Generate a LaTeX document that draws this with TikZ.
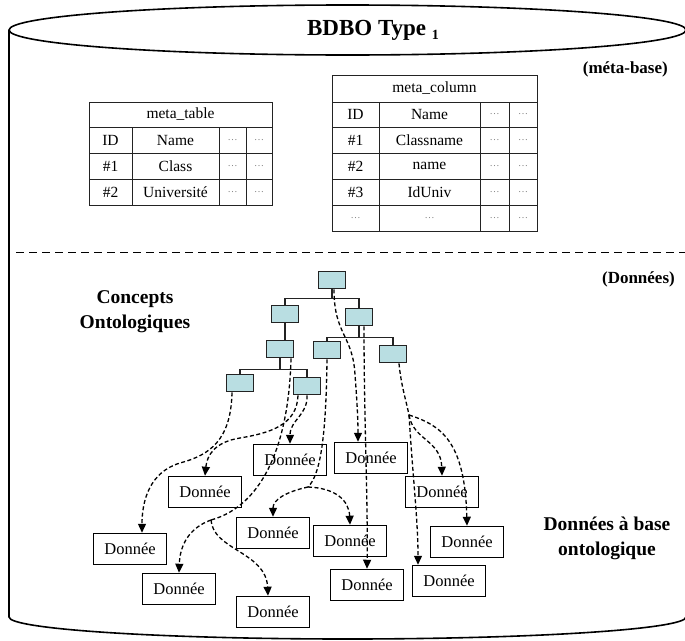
\documentclass[tikz,border=0pt]{standalone}
\usepackage{fontspec}
\setmainfont{Liberation Serif}
\usetikzlibrary{arrows.meta}
\definecolor{boxcyan}{RGB}{185,222,226}
\definecolor{linegray}{RGB}{35,35,35}
\newcommand\mydots{\textcolor{gray}{\fontsize{10}{10}\selectfont\ldots}}
\begin{document}
\begin{tikzpicture}[x=1pt,y=-1pt,
  concept/.style={draw=linegray, line width=1.8pt, fill=boxcyan, minimum width=27pt, minimum height=17pt, inner sep=0pt},
  donnee/.style={draw=black, line width=1.5pt, minimum width=73pt, minimum height=31pt, inner sep=0pt, font=\fontsize{16.5}{18}\selectfont},
  tree/.style={draw=linegray, line width=1.7pt},
  conn/.style={draw=black, line width=1.3pt, dash pattern=on 4pt off 2.5pt},
  arr/.style={conn, -{Triangle[length=9pt,width=8pt]}},
  tab/.style={draw=linegray, line width=1.5pt},
  cell/.style={inner sep=0pt, font=\fontsize{15.5}{17}\selectfont},
  lab/.style={inner sep=0pt, align=center, font=\fontsize{19.5}{25}\selectfont\bfseries},
  plab/.style={inner sep=0pt, font=\fontsize{17}{20}\selectfont\bfseries},
  cyl/.style={draw=black, line width=1.6pt},
  sep/.style={draw=black, line width=1.4pt, dash pattern=on 8pt off 5pt}
]
\useasboundingbox (0,0) rectangle (685,640);

% cylinder
\draw[cyl] (347.5,30) ellipse [x radius=338.5pt, y radius=25pt];
\draw[cyl] (9,30) -- (9,617) arc[start angle=180, end angle=360, x radius=338.5pt, y radius=22pt] -- (686,30);

\node[inner sep=0pt, font=\fontsize{23}{25}\selectfont\bfseries] (title) at (373,30) {BDBO Type \raisebox{-4pt}{\fontsize{14}{14}\selectfont 1}};
\node[plab, anchor=east] (metabase) at (668,69) {(méta-base)};
\node[plab, anchor=east] (donnees) at (675,279) {(Données)};

% separator
\draw[sep] (16,252.5) -- (685,252.5);

% tables
\begin{scope}[shift={(0.5,0.5)}]
\draw[tab] (89,102) rectangle (272,205);
\draw[tab] (89,127) -- (272,127) (89,153) -- (272,153) (89,179) -- (272,179);
\draw[tab] (132,127) -- (132,205) (219,127) -- (219,205) (246,127) -- (246,205);
\draw[tab] (332,75) rectangle (537,231);
\draw[tab] (332,102) -- (537,102) (332,127) -- (537,127) (332,153) -- (537,153) (332,179) -- (537,179) (332,205) -- (537,205);
\draw[tab] (379,102) -- (379,231) (480,102) -- (480,231) (509,102) -- (509,231);
\end{scope}
\node[cell] (mth) at (180.5,114.5) {meta\_table};
\node[cell] (mt1a) at (110.5,140) {ID};
\node[cell] (mt1b) at (175.5,140) {Name};
\node[cell] (mt1c) at (232.5,140) {\mydots};
\node[cell] (mt1d) at (259,140) {\mydots};
\node[cell] (mt2a) at (110.5,166) {\#1};
\node[cell] (mt2b) at (175.5,166) {Class};
\node[cell] (mt2c) at (232.5,166) {\mydots};
\node[cell] (mt2d) at (259,166) {\mydots};
\node[cell] (mt3a) at (110.5,192) {\#2};
\node[cell] (mt3b) at (175.5,192) {Université};
\node[cell] (mt3c) at (232.5,192) {\mydots};
\node[cell] (mt3d) at (259,192) {\mydots};

\node[cell] (mch) at (434.5,88.5) {meta\_column};
\node[cell] (mc1a) at (355.5,114.5) {ID};
\node[cell] (mc1b) at (429.5,114.5) {Name};
\node[cell] (mc1c) at (494.5,114.5) {\mydots};
\node[cell] (mc1d) at (523,114.5) {\mydots};
\node[cell] (mc2a) at (355.5,140) {\#1};
\node[cell] (mc2b) at (429.5,140) {Classname};
\node[cell] (mc2c) at (494.5,140) {\mydots};
\node[cell] (mc2d) at (523,140) {\mydots};
\node[cell] (mc3a) at (355.5,166) {\#2};
\node[cell] (mc3b) at (429.5,166) {name};
\node[cell] (mc3c) at (494.5,166) {\mydots};
\node[cell] (mc3d) at (523,166) {\mydots};
\node[cell] (mc4a) at (355.5,192) {\#3};
\node[cell] (mc4b) at (429.5,192) {IdUniv};
\node[cell] (mc4c) at (494.5,192) {\mydots};
\node[cell] (mc4d) at (523,192) {\mydots};
\node[cell] (mc5a) at (355.5,218) {\mydots};
\node[cell] (mc5b) at (429.5,218) {\mydots};
\node[cell] (mc5c) at (494.5,218) {\mydots};
\node[cell] (mc5d) at (523,218) {\mydots};

% labels
\node[lab] (concepts) at (135,312) {Concepts\\Ontologiques};
\node[lab] (dab) at (607,538) {Données à base\\ontologique};

% concept tree
\node[concept] (root) at (332,280) {};
\node[concept] (L1l) at (285,314) {};
\node[concept] (L1r) at (359,317) {};
\node[concept] (L2l) at (280,349) {};
\node[concept] (L2m) at (327,350) {};
\node[concept] (L2r) at (393,354) {};
\node[concept] (L3l) at (240,383) {};
\node[concept] (L3r) at (307,386) {};

\draw[tree] (root.south) -- ++(0,9) -| (L1l.north);
\draw[tree] (root.south) -- ++(0,9) -| (L1r.north);
\draw[tree] (L1l.south) -- (L1l.south |- L2l.north);
\draw[tree] (L1r.south) -- ++(0,11) -| (L2m.north);
\draw[tree] (L1r.south) -- ++(0,11) -| (L2r.north);
\draw[tree] (L2l.south) -- ++(0,11) -| (L3l.north);
\draw[tree] (L2l.south) -- ++(0,11) -| (L3r.north);

% data boxes
\node[donnee] (B1) at (290,460) {Donnée};
\node[donnee] (B2) at (371,458) {Donnée};
\node[donnee] (B3) at (205,492) {Donnée};
\node[donnee] (B4) at (442,492) {Donnée};
\node[donnee] (B5) at (130,549) {Donnée};
\node[donnee] (B6) at (273,533) {Donnée};
\node[donnee] (B7) at (350,541) {Donnée};
\node[donnee] (B8) at (467,542) {Donnée};
\node[donnee] (B9) at (179,589) {Donnée};
\node[donnee] (B10) at (367,585) {Donnée};
\node[donnee] (B11) at (449,581) {Donnée};
\node[donnee] (B12) at (273,612) {Donnée};

% connectors
\draw[arr] ([xshift=2pt]root.south) .. controls (334,335) and (353,335) .. (355,375) .. controls (357,400) and (358,420) .. ([xshift=-13pt]B2.north);
\draw[arr] ([xshift=5pt]L1r.south) .. controls (364,420) and (368,500) .. (B10.north);

\coordinate (j1) at (211,520);
\draw[conn] ([xshift=11pt]L2l.south) .. controls (289,440) and (265,505) .. (j1);
\draw[arr] (j1) .. controls (189,528) and (180,545) .. (B9.north);
\draw[arr] (j1) .. controls (213,550) and (266,552) .. ([xshift=-5pt]B12.north);

\coordinate (j2) at (308,487);
\draw[conn] (L2m.south) .. controls (326,440) and (320,475) .. (j2);
\draw[arr] (j2) .. controls (285,492) and (273,500) .. (B6.north);
\draw[arr] (j2) .. controls (335,488) and (349,500) .. (B7.north);

\coordinate (j3) at (409,415);
\draw[conn] ([xshift=6pt]L2r.south) .. controls (401,385) and (406,400) .. (j3);
\draw[arr] (j3) .. controls (413,480) and (418,520) .. ([xshift=-31pt]B11.north);
\draw[arr] (j3) .. controls (413,440) and (441,440) .. (B4.north);
\draw[arr] (j3) .. controls (440,425) and (465,440) .. (B8.north);

\draw[arr] ([xshift=-8pt]L3l.south) .. controls (231,440) and (210,455) .. (180,463) .. controls (150,472) and (142,500) .. ([xshift=12pt]B5.north);
\draw[arr] ([xshift=-9pt]L3r.south) .. controls (297,425) and (270,433) .. (240,438) .. controls (215,442) and (207,455) .. (B3.north);
\draw[arr] (L3r.south) .. controls (308,415) and (290,420) .. (B1.north);
\end{tikzpicture}
\end{document}
